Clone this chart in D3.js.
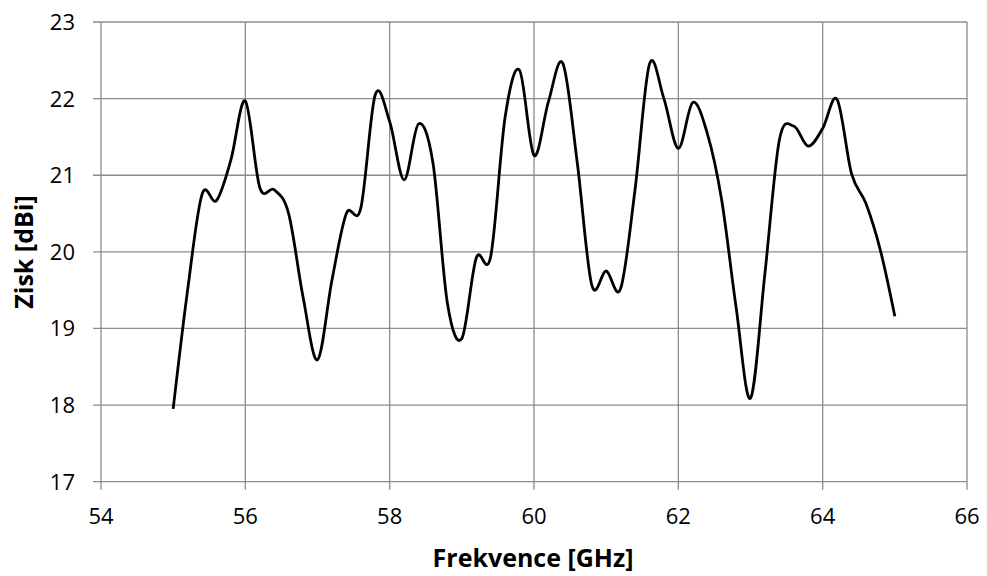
<!DOCTYPE html>
<html>
<head>
<meta charset="utf-8">
<script src="https://cdn.jsdelivr.net/npm/d3@7"></script>
<style>
  body { margin: 0; background: #fff; }
  text { font-family: "Open Sans", "Noto Sans", sans-serif; fill: #000; }
</style>
</head>
<body>
<script>
// frequency samples (GHz) and gain (dBi)
let freq = [55.0, 55.2, 55.4, 55.6, 55.8, 56.0, 56.2, 56.4, 56.6, 56.8,
  57.0, 57.2, 57.4, 57.6, 57.8, 58.0, 58.2, 58.4, 58.6, 58.8,
  59.0, 59.2, 59.4, 59.6, 59.8, 60.0, 60.2, 60.4, 60.6, 60.8,
  61.0, 61.2, 61.4, 61.6, 61.8, 62.0, 62.2, 62.4, 62.6, 62.8,
  63.0, 63.2, 63.4, 63.6, 63.8, 64.0, 64.2, 64.4, 64.6, 64.8, 65.0];
let gain = [17.95, 19.5, 20.75, 20.67, 21.2, 21.97, 20.84, 20.81, 20.5, 19.41,
  18.59, 19.63, 20.5, 20.57, 22.05, 21.7, 20.94, 21.67, 21.16, 19.33,
  18.87, 19.92, 19.94, 21.76, 22.37, 21.26, 21.96, 22.46, 21.16, 19.57,
  19.75, 19.52, 20.81, 22.45, 22.0, 21.35, 21.95, 21.55, 20.68, 19.28,
  18.09, 19.72, 21.46, 21.64, 21.38, 21.61, 21.99, 21.02, 20.63, 20.02, 19.16];
let xTicks = [54, 56, 58, 60, 62, 64, 66];
let yTicks = [17, 18, 19, 20, 21, 22, 23];

let svg = d3.select('body')
  .append('svg')
  .attr('width', 987)
  .attr('height', 576);

let plotLeft = 101, plotRight = 967, plotTop = 22, plotBottom = 481.7;

let x = d3.scaleLinear().domain([54, 66]).range([plotLeft, plotRight]);
let y = d3.scaleLinear().domain([17, 23]).range([plotBottom, plotTop]);

let gridColor = '#8c8c8c';

// gridlines
svg.append('g')
  .selectAll('line')
  .data(xTicks)
  .join('line')
  .attr('x1', d => x(d)).attr('x2', d => x(d))
  .attr('y1', plotTop).attr('y2', plotBottom + 8)
  .attr('stroke', gridColor)
  .attr('stroke-width', 1.3);

svg.append('g')
  .selectAll('line')
  .data(yTicks)
  .join('line')
  .attr('x1', plotLeft - 8).attr('x2', plotRight)
  .attr('y1', d => y(d)).attr('y2', d => y(d))
  .attr('stroke', gridColor)
  .attr('stroke-width', 1.3);

// tick labels
svg.append('g')
  .selectAll('text')
  .data(xTicks)
  .join('text')
  .attr('x', d => x(d))
  .attr('y', 524)
  .attr('text-anchor', 'middle')
  .attr('font-size', 22)
  .text(d => d);

svg.append('g')
  .selectAll('text')
  .data(yTicks)
  .join('text')
  .attr('x', 75)
  .attr('y', d => y(d))
  .attr('dy', '0.36em')
  .attr('text-anchor', 'end')
  .attr('font-size', 22)
  .text(d => d);

// axis titles
svg.append('text')
  .attr('x', 533)
  .attr('y', 567)
  .attr('text-anchor', 'middle')
  .attr('font-size', 25)
  .attr('font-weight', 'bold')
  .text('Frekvence [GHz]');

svg.append('text')
  .attr('transform', 'translate(33,252) rotate(-90)')
  .attr('text-anchor', 'middle')
  .attr('font-size', 25)
  .attr('font-weight', 'bold')
  .text('Zisk [dBi]');

// smoothed data line
let lineFunction = d3.line()
  .x((d, i) => x(freq[i]))
  .y(d => y(d))
  .curve(d3.curveCardinal.tension(0));

svg.append('path')
  .attr('d', lineFunction(gain))
  .attr('stroke', '#000')
  .attr('stroke-width', 2.8)
  .attr('stroke-linejoin', 'round')
  .attr('fill', 'none');
</script>
</body>
</html>
